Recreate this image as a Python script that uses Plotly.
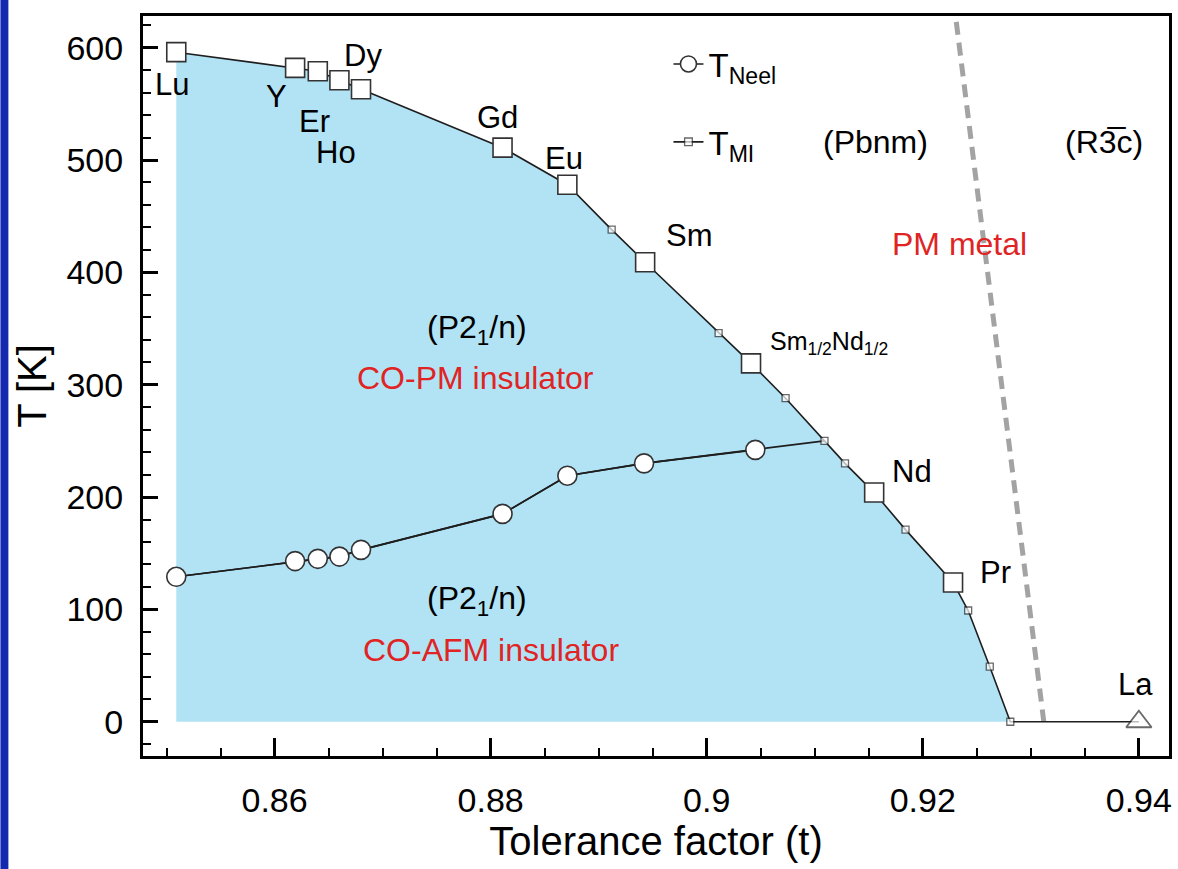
import plotly.graph_objects as go

# ---------------- data ----------------
# T_MI (metal-insulator transition) vs tolerance factor, ordered by t
tmi_t = [0.8509, 0.8619, 0.8640, 0.8660, 0.8680, 0.8811, 0.8871, 0.8912, 0.8943, 0.9011,
         0.9041, 0.9073, 0.9109, 0.9128, 0.9155, 0.9184, 0.9228, 0.9242, 0.9262, 0.9281, 0.9400]
tmi_T = [596, 582, 579, 571, 563, 511, 478, 438, 409, 346,
         319, 288, 250, 230, 204, 171, 124, 99, 49, 0, 0]
tmi_label = ['Lu', 'Y', 'Er', 'Ho', 'Dy', 'Gd', 'Eu', '', 'Sm', '',
             'Sm<sub>1/2</sub>Nd<sub>1/2</sub>', '', '', '', 'Nd', '', 'Pr', '', '', '', 'La']

# T_Neel vs tolerance factor
tn_t = [0.8509, 0.8619, 0.8640, 0.8660, 0.8680, 0.8811, 0.8871, 0.8942, 0.9045]
tn_T = [129, 143, 145, 147, 153, 185, 219, 230, 242]
# point where T_Neel meets the T_MI line
tn_join_t = [0.9109]
tn_join_T = [250]

# Pbnm / R-3c structural boundary (dashed)
bound_t = [0.9231, 0.9312]
bound_T = [623, 0]

# ---------------- style ----------------
FONT = "Liberation Sans, Arial, Helvetica, sans-serif"
RED = "#e02424"
LINE = "#1e1e1e"
FILL = "#b2e3f5"
W, H = 1178, 869
ML, MR, MT, MB = 143, 6, 16, 113

label_offsets = {  # pixel offsets (x, y-up) of element labels from their points
    'Lu': (-4, -32), 'Y': (-19, -29), 'Er': (-3, -50), 'Ho': (-3, -72), 'Dy': (2, 34),
    'Gd': (-5, 30), 'Eu': (-3, 26), 'Sm': (44, 27),
    'Sm<sub>1/2</sub>Nd<sub>1/2</sub>': (78, 20), 'Nd': (38, 21), 'Pr': (42, 10), 'La': (-3, 37),
}

zero_idx = tmi_T.index(0)
la_idx = tmi_label.index('La')
big_idx = [i for i, lab in enumerate(tmi_label) if lab and lab != 'La']

fig = go.Figure()

# insulating region (filled)
fig.add_trace(go.Scatter(
    x=tmi_t[:zero_idx + 1] + [tmi_t[0]],
    y=tmi_T[:zero_idx + 1] + [0],
    mode='lines', fill='toself', fillcolor=FILL,
    line=dict(width=0), showlegend=False, hoverinfo='skip'))

# structural boundary
fig.add_trace(go.Scatter(
    x=bound_t, y=bound_T, mode='lines',
    line=dict(color='#a3a3a3', width=5, dash='13px,8px'),
    showlegend=False, hoverinfo='skip'))

# T_Neel line segment to the T_MI line
fig.add_trace(go.Scatter(
    x=tn_t + tn_join_t, y=tn_T + tn_join_T, mode='lines',
    line=dict(color=LINE, width=1.6), showlegend=False, hoverinfo='skip'))

# T_MI line with small squares (and La triangle)
symbols = ['triangle-up' if i == la_idx else 'square' for i in range(len(tmi_t))]
sizes = [22 if i == la_idx else 7 for i in range(len(tmi_t))]
mlw = [1.8 if i == la_idx else 1.3 for i in range(len(tmi_t))]
fig.add_trace(go.Scatter(
    x=tmi_t, y=tmi_T, mode='lines+markers', name='T<sub>MI</sub>',
    legendgroup='b', legendrank=2,
    line=dict(color=LINE, width=1.6),
    marker=dict(symbol=symbols, size=sizes, color='white',
                line=dict(color='#2a2a2a', width=mlw))))

# T_Neel circles
fig.add_trace(go.Scatter(
    x=tn_t, y=tn_T, mode='lines+markers', name='T<sub>Neel</sub>',
    legendgroup='a', legendrank=1,
    line=dict(color=LINE, width=1.6),
    marker=dict(symbol='circle', size=19, color='white',
                line=dict(color='#333333', width=1.6))))

# large squares for the named compounds
fig.add_trace(go.Scatter(
    x=[tmi_t[i] for i in big_idx], y=[tmi_T[i] for i in big_idx], mode='markers',
    marker=dict(symbol='square', size=19, color='white',
                line=dict(color='#333333', width=1.6)),
    showlegend=False, hoverinfo='skip'))

annotations = []
for i, lab in enumerate(tmi_label):
    if not lab:
        continue
    dx, dy = label_offsets[lab]
    small = 'sub' in lab
    annotations.append(dict(
        x=tmi_t[i], y=tmi_T[i], xref='x', yref='y', text=lab, showarrow=False,
        xshift=dx, yshift=dy,
        font=dict(family=FONT, size=25 if small else 31, color='black')))

region_text = [
    (0.8787, 349, '(P2<sub>1</sub>/n)', 'black'),
    (0.8786, 306, 'CO-PM insulator', RED),
    (0.8787, 108, '(P2<sub>1</sub>/n)', 'black'),
    (0.8800, 64, 'CO-AFM insulator', RED),
    (0.9234, 425, 'PM metal', RED),
    (0.91559, 516, '(Pbnm)', 'black'),
    (0.93681, 516, '(R3\u0305c)', 'black'),
]
for x, y, txt, col in region_text:
    annotations.append(dict(
        x=x, y=y, xref='x', yref='y', text=txt, showarrow=False,
        font=dict(family=FONT, size=32, color=col)))

pw = W - ML - MR
ph = H - MT - MB
shapes = [dict(
    type='rect', xref='paper', yref='paper',
    x0=-ML / pw, x1=(8 - ML) / pw, y0=-MB / ph, y1=1 + MT / ph,
    fillcolor='#1428b0', line=dict(width=0), layer='above')]

fig.update_layout(
    width=W, height=H,
    margin=dict(l=ML, r=MR, t=MT, b=MB),
    paper_bgcolor='white', plot_bgcolor='white',
    font=dict(family=FONT, color='black'),
    annotations=annotations, shapes=shapes,
    legend=dict(x=(670 - ML) / pw, y=1 - (36 - MT) / ph, xanchor='left', yanchor='top',
                bgcolor='rgba(0,0,0,0)', tracegroupgap=32,
                font=dict(family=FONT, size=33, color='black')),
    showlegend=True,
)

fig.update_xaxes(
    range=[0.84782, 0.94279], showgrid=False, zeroline=False,
    showline=True, linecolor='black', linewidth=3, mirror=True,
    ticks='inside', ticklen=18, tickwidth=2.5, tickcolor='black',
    tick0=0.86, dtick=0.02, ticklabelstandoff=12,
    tickfont=dict(family=FONT, size=34, color='black'),
    minor=dict(ticks='inside', ticklen=8, tickwidth=2, tickcolor='black', dtick=0.005, tick0=0.86),
    title=dict(text='Tolerance factor (t)', font=dict(family=FONT, size=40, color='black'),
               standoff=4),
)
fig.update_yaxes(
    range=[-30.5, 628.2], showgrid=False, zeroline=False,
    showline=True, linecolor='black', linewidth=3, mirror=True,
    ticks='inside', ticklen=15, tickwidth=2.5, tickcolor='black',
    tick0=0, dtick=100, ticklabelstandoff=10,
    tickfont=dict(family=FONT, size=34, color='black'),
    minor=dict(ticks='inside', ticklen=8, tickwidth=2, tickcolor='black', dtick=20, tick0=0),
    title=dict(text='T [K]', font=dict(family=FONT, size=40, color='black'), standoff=8),
)

fig.write_html("out.html")
